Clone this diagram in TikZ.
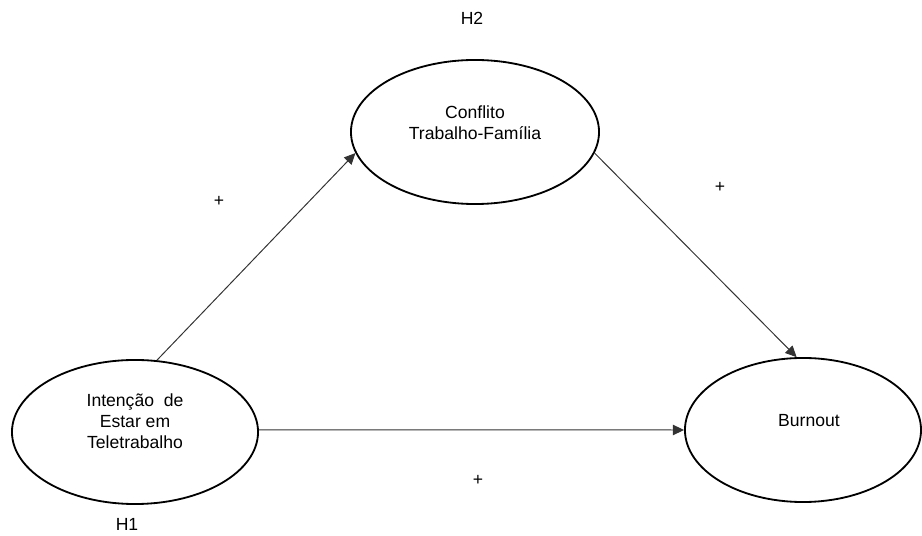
\documentclass[tikz,border=0pt]{standalone}
\usepackage{fontspec}
\setmainfont{Liberation Sans}
\usepackage{tikz}
\usetikzlibrary{arrows.meta,positioning,shapes.geometric}

\begin{document}
\begin{tikzpicture}[
    x=0.025cm, y=-0.025cm,
    font=\fontsize{12.5}{15}\selectfont,
    latent/.style={draw, ellipse, line width=1.3pt, minimum height=3.6cm, inner sep=0pt},
    txt/.style={align=center, inner sep=0pt},
    arr/.style={-{Triangle[length=2.8mm,width=2.6mm]}, line width=0.7pt, draw=black!80}
  ]
    \useasboundingbox (0,0) rectangle (922,536);
    \node[latent, minimum width=6.15cm] (L) at (135,432) {};
    \node[latent, minimum width=6.2cm] (T) at (475,132) {};
    \node[latent, minimum width=5.9cm] (B) at (803,430) {};

    \node[txt] (Ltxt) at (135,421) {Intenção\ \ de\\Estar em\\Teletrabalho};
    \node[txt] (Ttxt) at (475,123) {Conflito\\Trabalho-Família};
    \node[txt] (Btxt) at (809,421) {Burnout};

    \node[txt] (H2) at (472,18) {H2};
    \node[txt] (H1) at (127,524) {H1};
    \node[txt] (p1) at (219,201) {+};
    \node[txt] (p2) at (720,187) {+};
    \node[txt] (p3) at (478,480) {+};

    \draw[arr] (L.73) -- (T.190);
    \draw[arr] (T.-10) -- (B.95);
    \draw[arr] (L.1) -- (B.west);
  \end{tikzpicture}
\end{document}
